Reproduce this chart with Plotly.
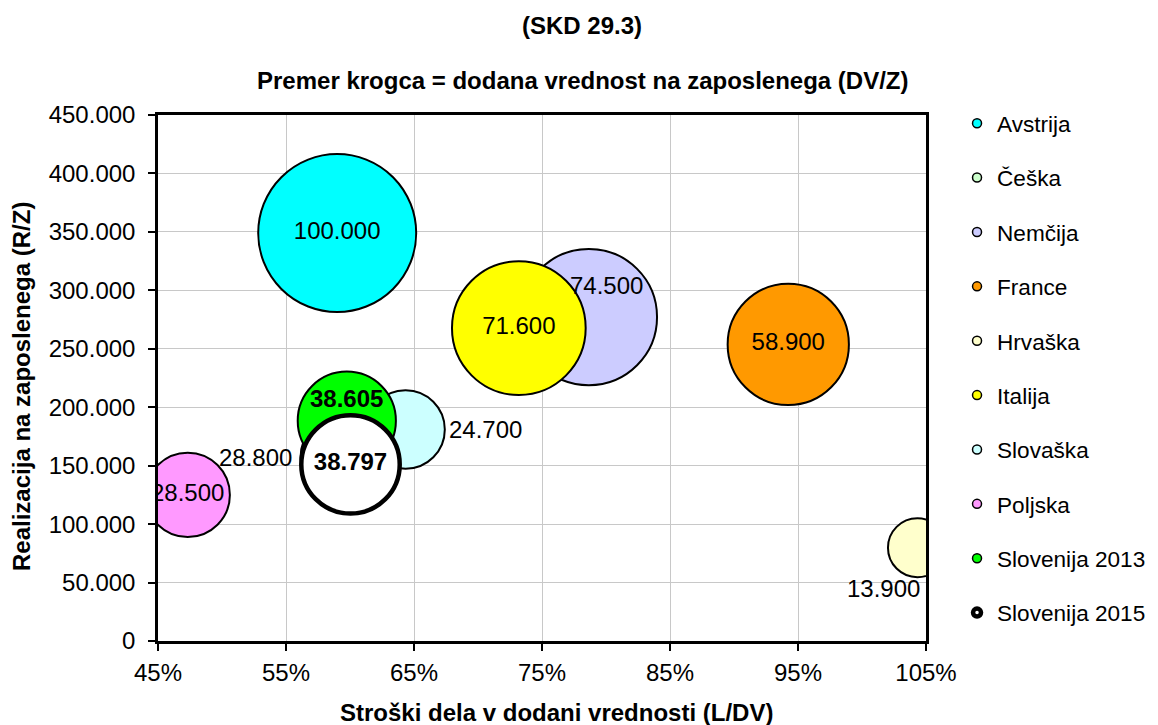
import plotly.graph_objects as go

# ---- data ----
countries = ["Avstrija", "Češka", "Nemčija", "France", "Hrvaška", "Italija",
             "Slovaška", "Poljska", "Slovenija 2013", "Slovenija 2015"]
labor_share = [0.590, 0.5945, 0.7866, 0.9424, 1.0433, 0.7319, 0.6434, 0.4732, 0.5975, 0.6004]   # L/DV
revenue_per_emp = [349000, 157000, 277100, 253700, 79800, 267700, 181000, 125000, 188500, 151100]  # R/Z
va_per_emp = [100000, 28800, 74500, 58900, 13900, 71600, 24700, 28500, 38605, 38797]  # DV/Z
x_ticks = [0.45, 0.55, 0.65, 0.75, 0.85, 0.95, 1.05]
y_ticks = [0, 50000, 100000, 150000, 200000, 250000, 300000, 350000, 400000, 450000]

colors = ["#00FFFF", "#CCFFCC", "#CCCCFF", "#FF9900", "#FFFFCC", "#FFFF00",
          "#CCFFFF", "#FF99FF", "#00FF00", "#FFFFFF"]

# label offsets (pixels) for labels not centred on their bubble
label_offsets = {
    "Češka": (-49, 0, "right"),
    "Nemčija": (18, 32, "center"),
    "Hrvaška": (-34, -41, "center"),
    "Slovaška": (41, 0, "left"),
    "Slovenija 2013": (0, 22, "center"),
}

FONT = "Liberation Sans, Arial, sans-serif"
FS = 24
LEG_FS = 22.6

def fmt(v):
    return f"{v:,}".replace(",", ".")

SIZEREF = max(va_per_emp) / (2 * 79.0 ** 2)

fig = go.Figure()
ann = []
for i, name in enumerate(countries):
    bold = name.startswith("Slovenija")
    label = fmt(va_per_emp[i])
    if bold:
        label = f"<b>{label}</b>"
    lw = 4.5 if name == "Slovenija 2015" else 2
    centered = name not in label_offsets
    fig.add_trace(go.Scatter(
        x=[labor_share[i]], y=[revenue_per_emp[i]],
        mode="markers+text" if centered else "markers",
        text=[label] if centered else None, textposition="middle center",
        textfont=dict(family=FONT, size=FS, color="black"),
        marker=dict(size=[va_per_emp[i]], sizemode="area", sizeref=SIZEREF,
                    color=colors[i], opacity=1,
                    line=dict(color="black", width=lw)),
        showlegend=False, hoverinfo="skip", cliponaxis=True,
    ))
    if not centered:
        dx, dy, xa = label_offsets[name]
        ann.append(dict(x=labor_share[i], y=revenue_per_emp[i], xref="x", yref="y",
                        text=label, showarrow=False, xshift=dx, yshift=dy,
                        xanchor=xa, yanchor="middle",
                        font=dict(family=FONT, size=FS, color="black")))

# legend entries
for i, name in enumerate(countries):
    big = name == "Slovenija 2015"
    fig.add_trace(go.Scatter(
        x=[None], y=[None], mode="markers", name=name, legendgroup=name,
        marker=dict(size=8 if big else 9, color=colors[i],
                    line=dict(color="black", width=4.5 if big else 1.5)),
    ))

def text_ann(x, y, text, angle=0):
    return dict(x=x, y=y, xref="paper", yref="paper", text=text, showarrow=False,
                xanchor="center", yanchor="middle", textangle=angle,
                font=dict(family=FONT, size=FS, color="black"))

ann += [
    text_ann(0.552, 1.171, "<b>(SKD 29.3)</b>"),
    text_ann(0.553, 1.0665, "<b>Premer krogca = dodana vrednost na zaposlenega (DV/Z)</b>"),
    text_ann(0.5195, -0.135, "<b>Stroški dela v dodani vrednosti (L/DV)</b>"),
    text_ann(-0.177, 0.483, "<b>Realizacija na zaposlenega (R/Z)</b>", -90),
]

fig.update_layout(
    width=1150, height=717, autosize=False,
    margin=dict(l=150, r=232, t=107, b=84, autoexpand=False),
    paper_bgcolor="white", plot_bgcolor="white",
    separators=",.",
    font=dict(family=FONT, size=FS, color="black"),
    annotations=ann,
    legend=dict(x=1.0404, xanchor="left", y=1.0247, yanchor="top",
                font=dict(family=FONT, size=LEG_FS, color="black"),
                tracegroupgap=22, itemsizing="trace", maxheight=1,
                bgcolor="rgba(0,0,0,0)"),
    xaxis=dict(range=[0.45, 1.05], tickvals=x_ticks, tickformat=".0%",
               showgrid=True, gridcolor="#C8C8C8", gridwidth=1,
               showline=True, linecolor="black", linewidth=2.5, mirror=True,
               ticks="outside", ticklen=7, tickwidth=1.5, tickcolor="black",
               ticklabelstandoff=1,
               zeroline=False, tickfont=dict(family=FONT, size=FS, color="black")),
    yaxis=dict(range=[0, 450000], tickvals=y_ticks, tickformat=",d",
               showgrid=True, gridcolor="#C8C8C8", gridwidth=1,
               showline=True, linecolor="black", linewidth=2.5, mirror=True,
               ticks="outside", ticklen=7, tickwidth=1.5, tickcolor="black",
               ticklabelstandoff=8,
               zeroline=False, tickfont=dict(family=FONT, size=FS, color="black")),
)

fig.write_html("out.html")
